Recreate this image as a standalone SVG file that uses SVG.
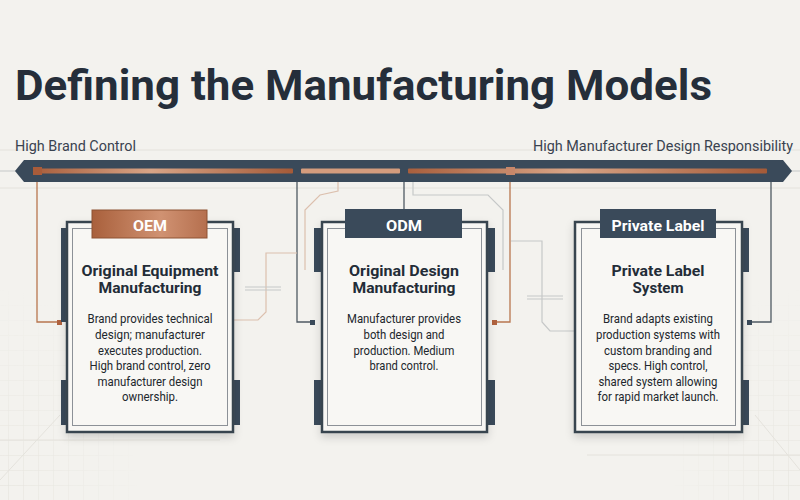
<svg xmlns="http://www.w3.org/2000/svg" width="800" height="500" viewBox="0 0 800 500">
<defs>
<style>
.f{font-family:Roboto,"Liberation Sans",sans-serif}
.title{font-weight:700;font-size:42px;fill:#252e3a}
.axis{font-size:14px;fill:#3a4350}
.tabt{font-weight:700;font-size:14px;fill:#ffffff;text-anchor:middle}
.h{font-weight:700;font-size:15px;fill:#232c37;text-anchor:middle}
.b{font-size:13.5px;fill:#22272d;text-anchor:middle}
.frame{fill:#f8f7f4;stroke:#39444f;stroke-width:2.5}
.inner{fill:none;stroke:#8c9197;stroke-width:1}
.tab{fill:#3a4a5a}
.dk{fill:none;stroke:#4f5963;stroke-width:1.3}
.cu{fill:none;stroke:#b8764f;stroke-width:1.3}
.lcu{fill:none;stroke:#dcc0ae;stroke-width:1.2}
.lg{fill:none;stroke:#c6c8c8;stroke-width:1.2}
.gl{fill:none;stroke:#e4e2dc;stroke-width:1}
</style>
<linearGradient id="cuTab" x1="0" y1="0" x2="1" y2="0">
<stop offset="0" stop-color="#a9603c"/>
<stop offset="0.6" stop-color="#d09272"/>
<stop offset="1" stop-color="#b56f4e"/>
</linearGradient>
<linearGradient id="stripe" x1="0" y1="0" x2="1" y2="0">
<stop offset="0" stop-color="#a95f3d"/>
<stop offset="0.45" stop-color="#d8a486"/>
<stop offset="1" stop-color="#a45a38"/>
</linearGradient>
<pattern id="grid" width="15" height="15" patternUnits="userSpaceOnUse" x="8" y="5">
<path d="M0 0V15M0 0H15" fill="none" stroke="#e1dfd8" stroke-width="1"/>
</pattern>
<radialGradient id="fadeL" cx="0" cy="1" r="1">
<stop offset="0" stop-color="#fff" stop-opacity="1"/>
<stop offset="1" stop-color="#fff" stop-opacity="0"/>
</radialGradient>
<radialGradient id="fadeR" cx="1" cy="1" r="1">
<stop offset="0" stop-color="#fff" stop-opacity="1"/>
<stop offset="1" stop-color="#fff" stop-opacity="0"/>
</radialGradient>
<mask id="mL"><rect x="0" y="290" width="140" height="210" fill="url(#fadeL)"/></mask>
<mask id="mR"><rect x="670" y="290" width="130" height="210" fill="url(#fadeR)"/></mask>
<filter id="sh" x="-10%" y="-10%" width="120%" height="125%">
<feDropShadow dx="0" dy="4" stdDeviation="4" flood-color="#000" flood-opacity="0.16"/>
</filter>
</defs>

<rect class="bg" x="0" y="0" width="800" height="500" fill="#f3f2ee"/>
<g id="background-grid">
<rect x="0" y="290" width="140" height="210" fill="url(#grid)" mask="url(#mL)"/>
<rect x="670" y="290" width="130" height="210" fill="url(#grid)" mask="url(#mR)"/>
<path class="gl" d="M0 150H800M0 188H800M0 440H220M587 455H800M0 480L60 415M755 415L800 470"/>
</g>

<text class="f title" x="15" y="100" textLength="697" lengthAdjust="spacingAndGlyphs">Defining the Manufacturing Models</text>
<text class="f axis" x="15" y="151" textLength="121" lengthAdjust="spacingAndGlyphs">High Brand Control</text>
<text class="f axis" x="533" y="151" textLength="260" lengthAdjust="spacingAndGlyphs">High Manufacturer Design Responsibility</text>

<g id="connectors">
<path class="lg" d="M0 171H16M791 171H800"/>
<path class="cu" d="M37 175V322H58"/>
<rect x="57" y="320" width="5" height="5" fill="#b0623e"/>
<path class="dk" d="M297 182V322H311"/>
<rect x="310" y="320" width="5" height="5" fill="#3a4a5a"/>
<path class="lcu" d="M338 182V191L320 195L305 210V270"/>
<path class="lcu" d="M297 253H266V312L258 320H233"/>
<path class="lg" d="M245 287H281M245 290H281"/>
<path class="dk" d="M404 182V209"/>
<path class="lg" d="M413 182V195H488L503 210V270"/>
<path class="cu" d="M510 175V322H496"/>
<rect x="492" y="320" width="5" height="5" fill="#b0623e"/>
<path class="lg" d="M511 241H542V322L550 331H575"/>
<path class="lg" d="M527 296H563M527 299H563"/>
<path class="dk" d="M771 182V322H751"/>
<rect x="747" y="320" width="5" height="5" fill="#3a4a5a"/>
</g>

<g id="scale-bar">
<polygon points="15,171 24,160 783,160 792,171 783,182 24,182" fill="#3a4a5a"/>
<rect x="35" y="168.5" width="258" height="5" rx="1" fill="url(#stripe)"/>
<rect x="301" y="168.5" width="99" height="5" rx="1" fill="#d49c7d"/>
<rect x="408" y="168.5" width="359" height="5" rx="1" fill="url(#stripe)"/>
<rect x="33" y="167" width="9" height="8" fill="#a95c3a"/>
<rect x="506" y="167" width="9" height="8" fill="#c7876a"/>
</g>

<g id="node-oem">
<rect class="tab" x="61" y="228" width="7" height="94"/>
<rect class="tab" x="61" y="380" width="7" height="45"/>
<rect class="tab" x="232" y="228" width="8" height="44"/>
<rect class="tab" x="232" y="380" width="8" height="45"/>
<rect class="frame" x="67" y="222" width="166" height="210" filter="url(#sh)"/>
<rect class="inner" x="72.5" y="228.5" width="155" height="197"/>
<rect x="92" y="210" width="115" height="28" fill="url(#cuTab)" stroke="#8e5232" stroke-width="1"/>
<text class="f tabt" x="150" y="231" textLength="34" lengthAdjust="spacingAndGlyphs">OEM</text>
<text class="f h" x="150" y="276" textLength="137" lengthAdjust="spacingAndGlyphs">Original Equipment</text>
<text class="f h" x="150" y="293" textLength="103" lengthAdjust="spacingAndGlyphs">Manufacturing</text>
<text class="f b" x="150" y="323" textLength="125" lengthAdjust="spacingAndGlyphs">Brand provides technical</text>
<text class="f b" x="150" y="339" textLength="110" lengthAdjust="spacingAndGlyphs">design; manufacturer</text>
<text class="f b" x="150" y="355" textLength="104" lengthAdjust="spacingAndGlyphs">executes production.</text>
<text class="f b" x="150" y="370" textLength="121" lengthAdjust="spacingAndGlyphs">High brand control, zero</text>
<text class="f b" x="150" y="386" textLength="105" lengthAdjust="spacingAndGlyphs">manufacturer design</text>
<text class="f b" x="150" y="401" textLength="56" lengthAdjust="spacingAndGlyphs">ownership.</text>
</g>

<g id="node-odm">
<rect class="tab" x="314" y="228" width="8" height="44"/>
<rect class="tab" x="314" y="380" width="8" height="45"/>
<rect class="tab" x="487" y="228" width="8" height="44"/>
<rect class="tab" x="487" y="380" width="8" height="45"/>
<rect class="frame" x="322" y="222" width="165" height="210" filter="url(#sh)"/>
<rect class="inner" x="327.5" y="228.5" width="154" height="197"/>
<rect class="tab" x="345" y="209" width="117" height="29"/>
<text class="f tabt" x="404" y="231" textLength="36" lengthAdjust="spacingAndGlyphs">ODM</text>
<text class="f h" x="404" y="276" textLength="110" lengthAdjust="spacingAndGlyphs">Original Design</text>
<text class="f h" x="404" y="293" textLength="103" lengthAdjust="spacingAndGlyphs">Manufacturing</text>
<text class="f b" x="404" y="323" textLength="114" lengthAdjust="spacingAndGlyphs">Manufacturer provides</text>
<text class="f b" x="404" y="339" textLength="81" lengthAdjust="spacingAndGlyphs">both design and</text>
<text class="f b" x="404" y="355" textLength="101" lengthAdjust="spacingAndGlyphs">production. Medium</text>
<text class="f b" x="404" y="370" textLength="69" lengthAdjust="spacingAndGlyphs">brand control.</text>
</g>

<g id="node-private-label">
<rect class="tab" x="742" y="228" width="7" height="44"/>
<rect class="tab" x="742" y="380" width="7" height="45"/>
<rect class="frame" x="575" y="222" width="167" height="210" filter="url(#sh)"/>
<rect class="inner" x="581.5" y="228.5" width="154" height="197"/>
<rect class="tab" x="600" y="209" width="116" height="29"/>
<text class="f tabt" x="658" y="231" textLength="93" lengthAdjust="spacingAndGlyphs">Private Label</text>
<text class="f h" x="658" y="276" textLength="93" lengthAdjust="spacingAndGlyphs">Private Label</text>
<text class="f h" x="658" y="293" textLength="51" lengthAdjust="spacingAndGlyphs">System</text>
<text class="f b" x="658" y="323" textLength="110" lengthAdjust="spacingAndGlyphs">Brand adapts existing</text>
<text class="f b" x="658" y="339" textLength="124" lengthAdjust="spacingAndGlyphs">production systems with</text>
<text class="f b" x="658" y="355" textLength="108" lengthAdjust="spacingAndGlyphs">custom branding and</text>
<text class="f b" x="658" y="370" textLength="99" lengthAdjust="spacingAndGlyphs">specs. High control,</text>
<text class="f b" x="658" y="386" textLength="119" lengthAdjust="spacingAndGlyphs">shared system allowing</text>
<text class="f b" x="658" y="401" textLength="121" lengthAdjust="spacingAndGlyphs">for rapid market launch.</text>
</g>
</svg>
